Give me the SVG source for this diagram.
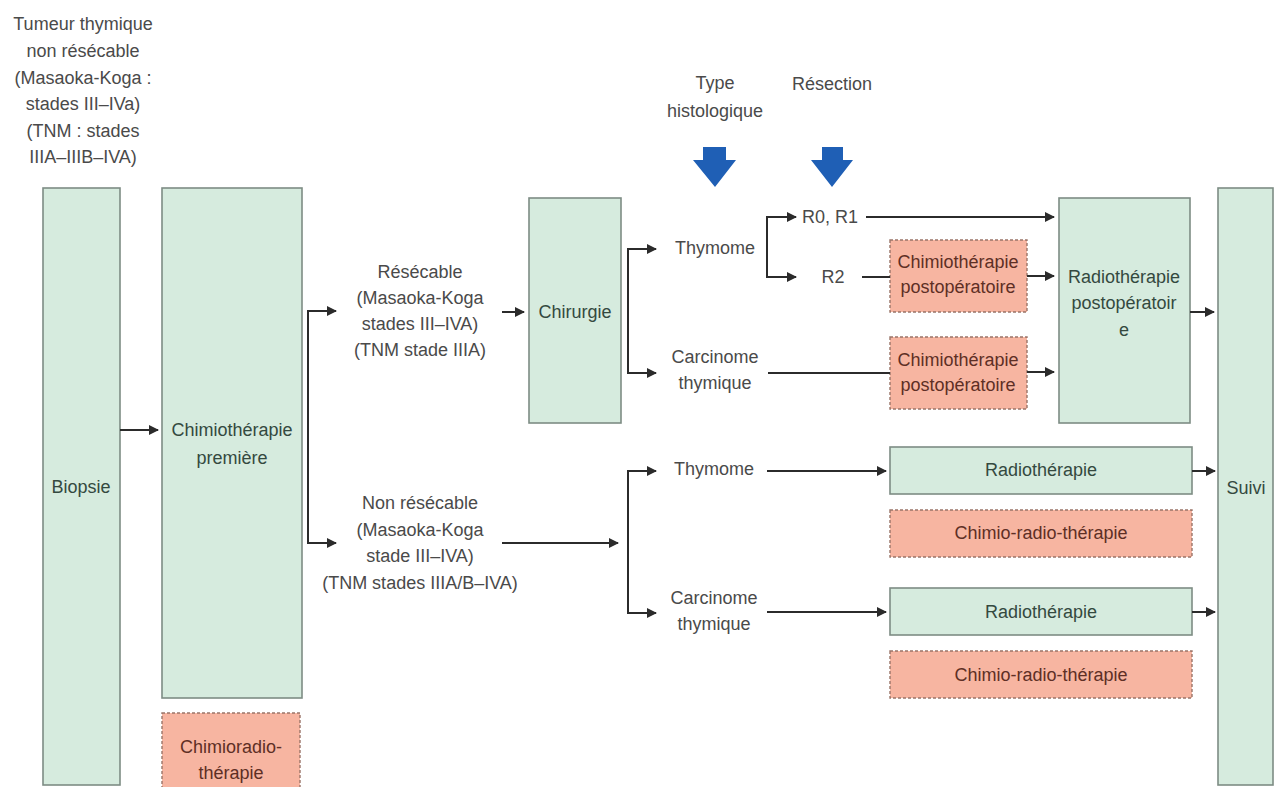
<svg xmlns="http://www.w3.org/2000/svg" width="1279" height="787" viewBox="0 0 1279 787">
<defs>
<marker id="ah" viewBox="0 0 10 10" refX="9" refY="5" markerWidth="10" markerHeight="10" markerUnits="userSpaceOnUse" orient="auto">
<path d="M0,0 L10,5 L0,10 z" fill="#2b2b2b"/>
</marker>
<style>
text{font-family:"Liberation Sans",Arial,sans-serif;font-size:18px;text-anchor:middle;fill:#4a4a4a}
.g rect{fill:#d6ebde;stroke:#7d8c84;stroke-width:1.6}
.g text{fill:#34493f}
.s rect{fill:#f7b5a1;stroke:#9a7468;stroke-width:1.4;stroke-dasharray:3 2}
.s text{fill:#5e2f25}
.c path,.c line{fill:none;stroke:#2b2b2b;stroke-width:2}
.blue{fill:#1f5fb5}
</style>
</defs>
<rect width="1279" height="787" fill="#ffffff"/>

<g id="title">
<text x="83" y="30">Tumeur thymique</text>
<text x="83" y="57">non résécable</text>
<text x="83" y="84">(Masaoka-Koga :</text>
<text x="83" y="110">stades III–IVa)</text>
<text x="83" y="137">(TNM : stades</text>
<text x="83" y="163">IIIA–IIIB–IVA)</text>
</g>

<g id="hdr-type">
<text x="715" y="89">Type</text>
<text x="715" y="117">histologique</text>
<path class="blue" d="M703,147 H726 V160 H736 L715,187 L693,160 H703 Z"/>
</g>
<g id="hdr-resection">
<text x="832" y="90">Résection</text>
<path class="blue" d="M822,147 H843 V160 H853 L832,187 L811,160 H822 Z"/>
</g>

<g id="biopsie" class="g"><rect x="43" y="188" width="77" height="597"/><text x="81" y="493">Biopsie</text></g>
<g id="chimio-premiere" class="g"><rect x="162" y="188" width="140" height="510"/><text x="232" y="436">Chimiothérapie</text><text x="232" y="464">première</text></g>
<g id="chimioradio" class="s"><rect x="162" y="713" width="138" height="80"/><text x="231" y="753">Chimioradio-</text><text x="231" y="779">thérapie</text></g>

<g id="resecable">
<text x="420" y="278">Résécable</text>
<text x="420" y="304">(Masaoka-Koga</text>
<text x="420" y="330">stades III–IVA)</text>
<text x="420" y="356">(TNM stade IIIA)</text>
</g>
<g id="non-resecable">
<text x="420" y="509">Non résécable</text>
<text x="420" y="536">(Masaoka-Koga</text>
<text x="420" y="562">stade III–IVA)</text>
<text x="420" y="589">(TNM stades IIIA/B–IVA)</text>
</g>

<g id="chirurgie" class="g"><rect x="529" y="198" width="92" height="225"/><text x="575" y="318">Chirurgie</text></g>

<g id="thymome1"><text x="715" y="254">Thymome</text></g>
<g id="carcinome1"><text x="715" y="363">Carcinome</text><text x="715" y="389">thymique</text></g>
<g id="r0r1"><text x="830" y="223">R0, R1</text></g>
<g id="r2"><text x="833" y="283">R2</text></g>

<g id="chimio-postop1" class="s"><rect x="890" y="240" width="137" height="72"/><text x="958" y="268">Chimiothérapie</text><text x="958" y="293">postopératoire</text></g>
<g id="chimio-postop2" class="s"><rect x="890" y="337" width="137" height="72"/><text x="958" y="366">Chimiothérapie</text><text x="958" y="391">postopératoire</text></g>
<g id="radio-postop" class="g"><rect x="1059" y="198" width="131" height="225"/><text x="1124" y="283">Radiothérapie</text><text x="1124" y="309">postopératoir</text><text x="1124" y="336">e</text></g>

<g id="thymome2"><text x="714" y="475">Thymome</text></g>
<g id="carcinome2"><text x="714" y="604">Carcinome</text><text x="714" y="630">thymique</text></g>

<g id="radio1" class="g"><rect x="890" y="447" width="302" height="47"/><text x="1041" y="476">Radiothérapie</text></g>
<g id="chimioradio1" class="s"><rect x="890" y="510" width="302" height="47"/><text x="1041" y="539">Chimio-radio-thérapie</text></g>
<g id="radio2" class="g"><rect x="890" y="588" width="302" height="47"/><text x="1041" y="618">Radiothérapie</text></g>
<g id="chimioradio2" class="s"><rect x="890" y="651" width="302" height="47"/><text x="1041" y="681">Chimio-radio-thérapie</text></g>

<g id="suivi" class="g"><rect x="1218" y="188" width="55" height="597"/><text x="1246" y="494">Suivi</text></g>

<g id="connectors" class="c">
<line x1="120" y1="430" x2="158" y2="430" marker-end="url(#ah)"/>
<path d="M336,311 H308 V543 H336" marker-end="url(#ah)"/>
<line x1="308" y1="311" x2="336" y2="311" marker-end="url(#ah)"/>
<line x1="502" y1="312" x2="524" y2="312" marker-end="url(#ah)"/>
<path d="M656,249 H628 V373 H656" marker-end="url(#ah)"/>
<line x1="628" y1="249" x2="656" y2="249" marker-end="url(#ah)"/>
<path d="M796,217 H767 V277 H796" marker-end="url(#ah)"/>
<line x1="767" y1="217" x2="796" y2="217" marker-end="url(#ah)"/>
<line x1="866" y1="217" x2="1054" y2="217" marker-end="url(#ah)"/>
<line x1="862" y1="277" x2="890" y2="277"/>
<line x1="1027" y1="276" x2="1054" y2="276" marker-end="url(#ah)"/>
<line x1="768" y1="373" x2="890" y2="373"/>
<line x1="1027" y1="372" x2="1054" y2="372" marker-end="url(#ah)"/>
<line x1="1190" y1="312" x2="1214" y2="312" marker-end="url(#ah)"/>
<line x1="502" y1="543" x2="618" y2="543" marker-end="url(#ah)"/>
<path d="M656,471 H628 V613 H656" marker-end="url(#ah)"/>
<line x1="628" y1="471" x2="656" y2="471" marker-end="url(#ah)"/>
<line x1="767" y1="471" x2="886" y2="471" marker-end="url(#ah)"/>
<line x1="767" y1="612" x2="886" y2="612" marker-end="url(#ah)"/>
<line x1="1192" y1="471" x2="1215" y2="471" marker-end="url(#ah)"/>
<line x1="1192" y1="612" x2="1215" y2="612" marker-end="url(#ah)"/>
</g>
</svg>
